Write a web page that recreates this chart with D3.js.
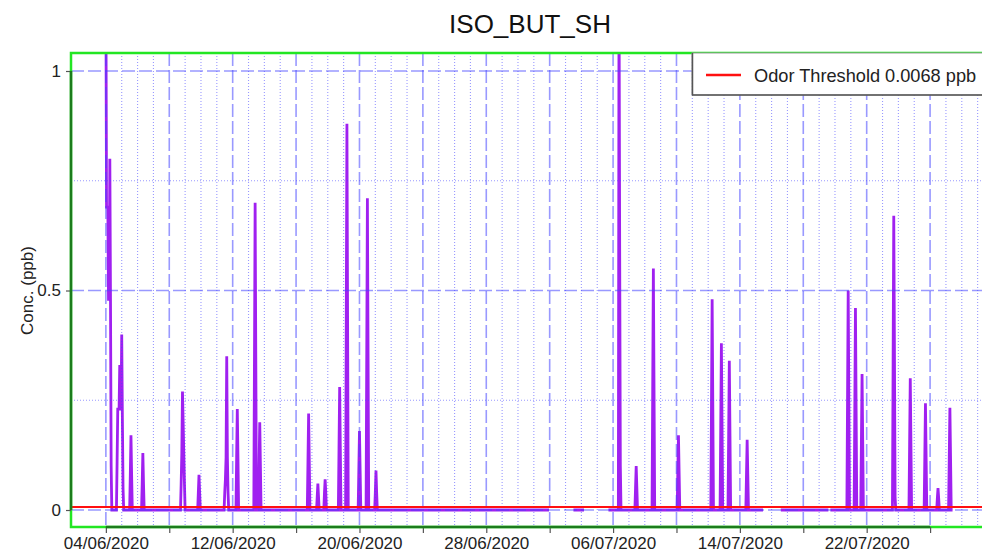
<!DOCTYPE html>
<html>
<head>
<meta charset="utf-8">
<script src="https://cdn.jsdelivr.net/npm/d3@7"></script>
<style>
  html, body { margin: 0; padding: 0; background: #fff; }
  svg { display: block; font-family: "Liberation Sans", Arial, sans-serif; }
</style>
</head>
<body>
<svg id="chart" width="982" height="554"></svg>
<script>
// ---------- data ----------
const chartTitle = "ISO_BUT_SH";
const yAxisTitle = "Conc. (ppb)";
const legendLabel = "Odor Threshold 0.0068 ppb";
const odorThreshold = 0.0068;

const dataStart = "2020-06-04T00";
const dataEnd = "2020-07-27T10";
const axisStart = "2020-06-04T00";
const axisEnd = "2020-07-26T00";

// hourly values of each detection event (hours not listed are 0)
const eventStarts = [
  "2020-06-04T00", "2020-06-04T17", "2020-06-05T13", "2020-06-06T07", "2020-06-08T18",
  "2020-06-09T20", "2020-06-11T12", "2020-06-12T06", "2020-06-13T09", "2020-06-13T16",
  "2020-06-16T18", "2020-06-17T08", "2020-06-17T19", "2020-06-18T17", "2020-06-19T04",
  "2020-06-19T23", "2020-06-20T11", "2020-06-21T00", "2020-07-06T09", "2020-07-07T10",
  "2020-07-08T12", "2020-07-10T02", "2020-07-12T05", "2020-07-12T19", "2020-07-13T07",
  "2020-07-14T10", "2020-07-20T19", "2020-07-21T06", "2020-07-21T16", "2020-07-23T16",
  "2020-07-24T17", "2020-07-25T16", "2020-07-26T11", "2020-07-27T05"
];
const eventValues = [
  [1.2, 0.69, 0.69, 0.69, 0.48, 0.48, 0.80, 0.48, 0.10],
  [0.11, 0.23, 0.23, 0.23, 0.33, 0.23, 0.23, 0.40, 0.21, 0.05],
  [0.08, 0.17, 0.08],
  [0.06, 0.13, 0.06],
  [0.06, 0.13, 0.27, 0.20, 0.13, 0.06],
  [0.04, 0.08, 0.04],
  [0.04, 0.07, 0.12, 0.35, 0.12, 0.04],
  [0.12, 0.23, 0.12],
  [0.35, 0.70, 0.35],
  [0.10, 0.20, 0.10],
  [0.11, 0.22, 0.11],
  [0.03, 0.06, 0.03],
  [0.04, 0.07, 0.04],
  [0.14, 0.28, 0.14],
  [0.44, 0.88, 0.44],
  [0.09, 0.18, 0.09],
  [0.355, 0.71, 0.355],
  [0.04, 0.09, 0.04],
  [1.2, 0.59, 0.10],
  [0.05, 0.10, 0.05],
  [0.275, 0.55, 0.275],
  [0.085, 0.17, 0.085],
  [0.24, 0.48, 0.24],
  [0.19, 0.38, 0.19],
  [0.17, 0.34, 0.17],
  [0.08, 0.16, 0.08],
  [0.25, 0.50, 0.25],
  [0.23, 0.46, 0.23],
  [0.155, 0.31, 0.155],
  [0.335, 0.67, 0.37, 0.03],
  [0.15, 0.30, 0.15],
  [0.12, 0.243, 0.12],
  [0.027, 0.05, 0.027],
  [0.118, 0.233, 0.118]
];

// periods with no data
const gapStarts = ["2020-07-01T23", "2020-07-04T04", "2020-07-15T11", "2020-07-19T14"];
const gapEnds   = ["2020-07-03T12", "2020-07-05T17", "2020-07-16T14", "2020-07-19T17"];

const yTicks = [0, 0.5, 1];
const yMinorGrid = [0.25, 0.75];

// ---------- build series ----------
const parse = d3.utcParse("%Y-%m-%dT%H");
const HOUR = 3600e3, DAY = 24 * HOUR;
const t0 = parse(dataStart), t1 = parse(dataEnd);
const a0 = parse(axisStart), a1 = parse(axisEnd);
const valueMap = new Map();
eventStarts.forEach((s, i) => {
  const st = parse(s).getTime();
  eventValues[i].forEach((v, j) => valueMap.set(st + j * HOUR, v));
});
const gaps = gapStarts.map((s, i) => [parse(s).getTime(), parse(gapEnds[i]).getTime()]);
const series = [];
for (let t = t0.getTime(); t <= t1.getTime(); t += HOUR) {
  const inGap = gaps.some(g => t > g[0] && t < g[1]);
  series.push({ t: new Date(t), v: inGap ? null : (valueMap.has(t) ? valueMap.get(t) : 0) });
}

// ---------- layout ----------
const svg = d3.select("#chart");
const plot = { left: 71, right: 990, top: 53, bottom: 527 };

const x = d3.scaleTime()
  .domain([new Date(a0.getTime() - 2.2 * DAY), new Date(a0.getTime() + 55.78 * DAY)])
  .range([plot.left, plot.right]);
const y = d3.scaleLinear()
  .domain([-0.0387, 1.041])
  .range([plot.bottom, plot.top]);

svg.append("defs").append("clipPath").attr("id", "clip")
  .append("rect")
  .attr("x", plot.left).attr("y", plot.top)
  .attr("width", plot.right - plot.left).attr("height", plot.bottom - plot.top);

const gridColor = "rgba(70,70,255,0.55)";

// ---------- data line ----------
const line = d3.line()
  .defined(d => d.v !== null)
  .x(d => x(d.t))
  .y(d => y(d.v));

svg.append("path")
  .datum(series)
  .attr("clip-path", "url(#clip)")
  .attr("fill", "none")
  .attr("stroke", "#a020f0")
  .attr("stroke-width", 2.8)
  .attr("stroke-linejoin", "miter")
  .attr("d", line);

// ---------- grid ----------
const grid = svg.append("g").attr("clip-path", "url(#clip)");
const dayTicks = d3.utcDay.range(a0, x.domain()[1]);
dayTicks.forEach(d => {
  const dayIndex = Math.round((d - a0) / DAY);
  const major = dayIndex % 4 === 0;
  grid.append("line")
    .attr("x1", x(d)).attr("x2", x(d))
    .attr("y1", plot.top).attr("y2", plot.bottom)
    .attr("stroke", gridColor)
    .attr("stroke-width", major ? 1.6 : 1.1)
    .attr("stroke-dasharray", major ? "13,4" : "1,2");
});
yTicks.forEach(v => {
  grid.append("line")
    .attr("x1", plot.left).attr("x2", plot.right)
    .attr("y1", y(v)).attr("y2", y(v))
    .attr("stroke", gridColor).attr("stroke-width", 1.6)
    .attr("stroke-dasharray", "13,4");
});
yMinorGrid.forEach(v => {
  grid.append("line")
    .attr("x1", plot.left).attr("x2", plot.right)
    .attr("y1", y(v)).attr("y2", y(v))
    .attr("stroke", gridColor).attr("stroke-width", 1.1)
    .attr("stroke-dasharray", "1,2");
});

// ---------- threshold ----------
svg.append("line")
  .attr("x1", plot.left).attr("x2", plot.right)
  .attr("y1", y(odorThreshold)).attr("y2", y(odorThreshold))
  .attr("stroke", "#ff1010").attr("stroke-width", 2);

// ---------- plot border ----------
svg.append("rect")
  .attr("x", plot.left).attr("y", plot.top)
  .attr("width", plot.right - plot.left).attr("height", plot.bottom - plot.top)
  .attr("fill", "none").attr("stroke", "#22e622").attr("stroke-width", 2.5);

// ---------- axes ----------
const nTicks = Math.round((a1 - a0) / (4 * DAY));
const tickDates = d3.range(nTicks + 1).map(i => d3.utcDay.offset(a0, 4 * i));
const xAxis = d3.axisBottom(x)
  .tickValues(tickDates)
  .tickSize(6)
  .tickPadding(4)
  .tickFormat((d, i) => (i % 2 === 0) ? d3.utcFormat("%d/%m/%Y")(d) : "");
const gx = svg.append("g").attr("transform", `translate(0,${plot.bottom})`).call(xAxis);
gx.select(".domain").remove();
gx.selectAll(".tick line").attr("stroke", "#555").attr("stroke-width", 1.2);
gx.selectAll(".tick text").attr("font-size", 17).attr("fill", "#222")
  .attr("font-family", "'Liberation Sans', Arial, sans-serif");
gx.append("line")
  .attr("x1", x(a0)).attr("x2", x(a1))
  .attr("y1", 0).attr("y2", 0)
  .attr("stroke", "#1c7c1c").attr("stroke-width", 2.5);

const yAxis = d3.axisLeft(y)
  .tickValues(yTicks)
  .tickSize(5)
  .tickPadding(5)
  .tickFormat(d => d3.format("")(d));
const gy = svg.append("g").attr("transform", `translate(${plot.left},0)`).call(yAxis);
gy.select(".domain").remove();
gy.selectAll(".tick line").attr("stroke", "#555").attr("stroke-width", 1.2);
gy.selectAll(".tick text").attr("font-size", 17).attr("fill", "#222")
  .attr("font-family", "'Liberation Sans', Arial, sans-serif");
gy.append("line")
  .attr("x1", 0).attr("x2", 0)
  .attr("y1", y(yTicks[0])).attr("y2", y(yTicks[yTicks.length - 1]))
  .attr("stroke", "#1c7c1c").attr("stroke-width", 2.5);

// ---------- titles ----------
svg.append("text")
  .attr("x", 530).attr("y", 33)
  .attr("text-anchor", "middle")
  .attr("font-size", 26).attr("fill", "#111")
  .text(chartTitle);

svg.append("text")
  .attr("transform", `translate(33,${y(0.5)}) rotate(-90)`)
  .attr("text-anchor", "middle")
  .attr("font-size", 17).attr("fill", "#222")
  .text(yAxisTitle);

// ---------- legend ----------
const lg = svg.append("g").attr("transform", `translate(692,${plot.top})`);
lg.append("rect").attr("x", 0).attr("y", 0).attr("width", 330).attr("height", 42)
  .attr("fill", "#fff").attr("stroke", "#999").attr("stroke-width", 1);
lg.append("line").attr("x1", 0.5).attr("x2", 0.5).attr("y1", 0).attr("y2", 42)
  .attr("stroke", "#555").attr("stroke-width", 1.5);
lg.append("line").attr("x1", 0).attr("x2", 330).attr("y1", 42).attr("y2", 42)
  .attr("stroke", "#555").attr("stroke-width", 1.5);
lg.append("line").attr("x1", 14).attr("x2", 49).attr("y1", 22).attr("y2", 22)
  .attr("stroke", "#ff1010").attr("stroke-width", 2.5);
lg.append("text").attr("x", 62).attr("y", 29)
  .attr("font-size", 18.2).attr("fill", "#222")
  .text(legendLabel);
</script>
</body>
</html>
